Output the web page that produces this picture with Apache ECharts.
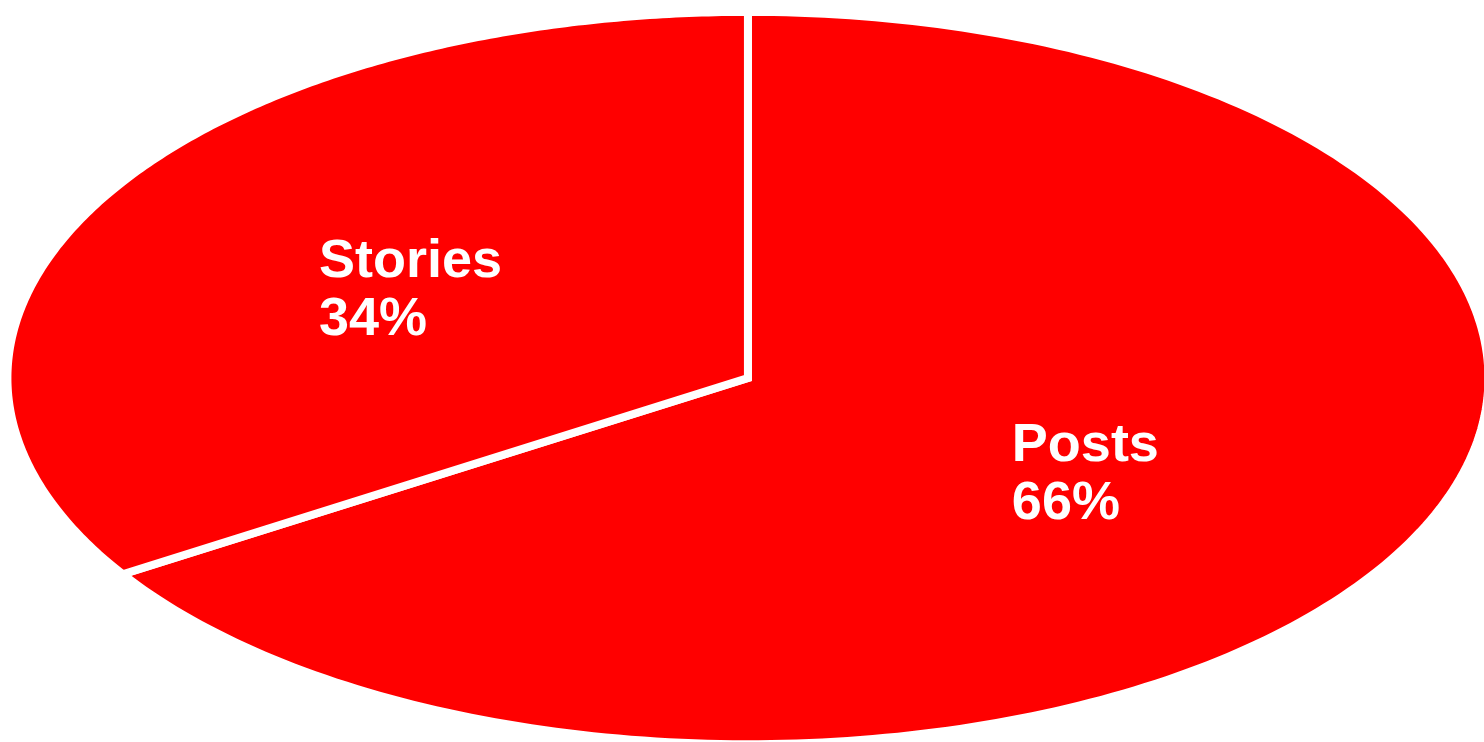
<!DOCTYPE html>
<html>
<head>
<meta charset="utf-8">
<script src="https://cdn.jsdelivr.net/npm/echarts@6/dist/echarts.min.js"></script>
<style>
  html, body { margin: 0; padding: 0; background: #ffffff; }
  #chart { width: 1484px; height: 742px; }
</style>
</head>
<body>
<div id="chart"></div>
<script>
// ---- data ----
const categories = ['Posts', 'Stories'];
const shares = [66, 34];
const labelsPct = ['66%', '34%'];

// ---- layout / style ----
const SLICE_COLOR = '#ff0000';
const GAP_COLOR = '#ffffff';
const GAP_WIDTH = 8;
const CENTER = [0.504, 0.5095];   // fraction of width / height
const RADIUS = [0.499, 0.4935];   // ellipse radii as fraction of width / height
const LABEL_R = 0.52;             // label distance as fraction of radius
const LABEL_DY = 5;
const FONT = 'bold 54px "Liberation Sans"';
const LINE_H = 58;

const total = shares.reduce((a, b) => a + b, 0);
const starts = [];
let acc = 0;
for (const v of shares) { starts.push(acc); acc += v; }

const measureCtx = document.createElement('canvas').getContext('2d');
measureCtx.font = FONT;
function blockWidth(lines) {
  return Math.max.apply(null, lines.map(l => measureCtx.measureText(l).width));
}

const chart = echarts.init(document.getElementById('chart'), null, { renderer: 'canvas' });

chart.setOption({
  backgroundColor: '#ffffff',
  animation: false,
  series: [{
    type: 'custom',
    coordinateSystem: 'none',
    data: categories.map((c, i) => ({ name: c, value: shares[i] })),
    renderItem: function (params, api) {
      const i = params.dataIndex;
      const W = api.getWidth(), H = api.getHeight();
      const cx = W * CENTER[0], cy = H * CENTER[1];
      const rx = W * RADIUS[0], ry = H * RADIUS[1];
      const v = api.value(0);
      const a0 = starts[i] / total * Math.PI * 2;
      const a1 = (starts[i] + v) / total * Math.PI * 2;
      const steps = 240;
      const pts = [[cx, cy]];
      for (let k = 0; k <= steps; k++) {
        const t = a0 + (a1 - a0) * k / steps;
        pts.push([cx + rx * Math.sin(t), cy - ry * Math.cos(t)]);
      }
      const mid = (a0 + a1) / 2;
      const lx = cx + rx * LABEL_R * Math.sin(mid);
      const ly = cy - ry * LABEL_R * Math.cos(mid) + LABEL_DY;
      const lines = [categories[i], labelsPct[i]];
      const bw = blockWidth(lines);
      return {
        type: 'group',
        children: [
          {
            type: 'polygon',
            shape: { points: pts },
            style: { fill: SLICE_COLOR, stroke: GAP_COLOR, lineWidth: GAP_WIDTH, lineJoin: 'miter' }
          },
          {
            type: 'text',
            x: lx - bw / 2,
            y: ly,
            z2: 10,
            style: {
              text: lines.join('\n'),
              font: FONT,
              fill: '#ffffff',
              align: 'left',
              verticalAlign: 'middle',
              lineHeight: LINE_H
            }
          }
        ]
      };
    }
  }]
});
</script>
</body>
</html>
